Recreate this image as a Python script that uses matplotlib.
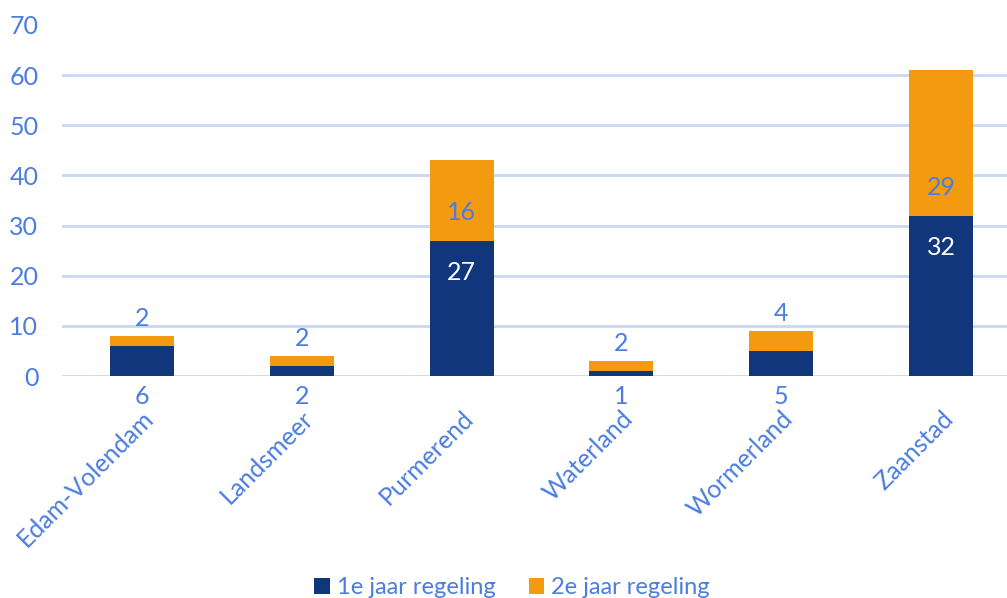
import numpy as np
import matplotlib.pyplot as plt

gemeenten = ['Edam-Volendam', 'Landsmeer', 'Purmerend', 'Waterland', 'Wormerland', 'Zaanstad']
jaar1 = [6, 2, 27, 1, 5, 32]
jaar2 = [2, 2, 16, 2, 4, 29]
reeksen = ['1e jaar regeling', '2e jaar regeling']

navy = '#12367c'
orange = '#f39a10'
txt = '#4a7ddf'
grid = '#c9d7f3'
fs = 18

plt.rcParams['font.family'] = ['Lato', 'DejaVu Sans']

fig = plt.figure(figsize=(10.07, 5.98), dpi=100)
ax = fig.add_axes([62 / 1007, 1 - 376 / 598, 1 - 62 / 1007, 351 / 598])

x = np.arange(len(gemeenten))
ax.bar(x, jaar1, width=0.4, color=navy, label=reeksen[0], zorder=3)
ax.bar(x, jaar2, width=0.4, bottom=jaar1, color=orange, label=reeksen[1], zorder=3)

ax.set_ylim(0, 70)
ax.set_xlim(-0.5, 5.5 - 14 / 160)
ax.set_yticks(range(0, 71, 10))
ax.set_xticks(x)
ax.set_xticklabels(gemeenten, rotation=45, ha='right', rotation_mode='anchor')
ax.tick_params(length=0, labelsize=fs, labelcolor=txt)
ax.tick_params(axis='x', pad=22)
ax.tick_params(axis='y', pad=17)
ax.grid(axis='y', color=grid, lw=2, zorder=0)
ax.yaxis.get_gridlines()[-1].set_visible(False)
for s in ax.spines.values():
    s.set_visible(False)

for i in range(len(gemeenten)):
    v1, v2 = jaar1[i], jaar2[i]
    if v1 >= 10:
        ax.annotate(str(v1), (x[i], v1), xytext=(0, -32 * 0.72), textcoords='offset points',
                    ha='center', va='center', color='white', fontsize=fs)
        ax.annotate(str(v2), (x[i], v1), xytext=(0, 28 * 0.72), textcoords='offset points',
                    ha='center', va='center', color=txt, fontsize=fs)
    else:
        ax.annotate(str(v1), (x[i], 0), xytext=(0, -9 * 0.72), textcoords='offset points',
                    ha='center', va='top', color=txt, fontsize=fs)
        ax.annotate(str(v2), (x[i], v1 + v2), xytext=(0, 6 * 0.72), textcoords='offset points',
                    ha='center', va='bottom', color=txt, fontsize=fs)

leg = fig.legend(loc='center', bbox_to_anchor=(512 / 1007, 1 - 588 / 598), ncol=2, frameon=False,
                 fontsize=17, handlelength=0.65, handleheight=0.65, columnspacing=1.4, handletextpad=0.3)
for t in leg.get_texts():
    t.set_color(txt)

fig.savefig('out.png', dpi=100)
